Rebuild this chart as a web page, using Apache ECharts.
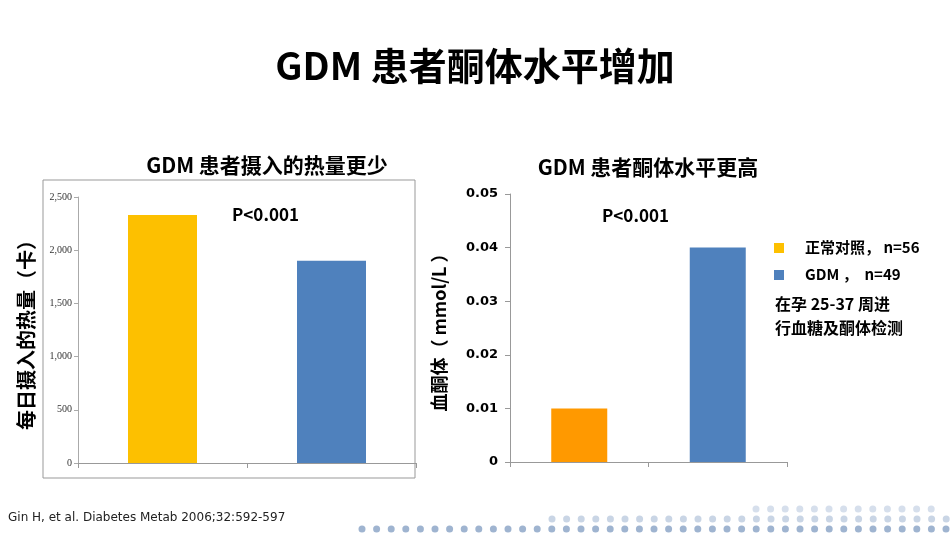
<!DOCTYPE html>
<html><head><meta charset="utf-8">
<script src="https://cdn.jsdelivr.net/npm/echarts@6/dist/echarts.min.js"></script>
<style>html,body{margin:0;padding:0;background:#fff}#c{width:950px;height:535px}</style>
</head><body><div id="c"></div>
<script>
const groups = ['正常对照', 'GDM'];
const calories = [2330, 1900];
const ketone = [0.01, 0.04];
const leftTicks = [0, 500, 1000, 1500, 2000, 2500];
const rightTicks = [0, 0.01, 0.02, 0.03, 0.04, 0.05];
const leftColors = ['#FDC000', '#4F81BD'];
const rightColors = ['#FF9900', '#4F81BD'];
const F = '"Noto Sans CJK SC","DejaVu Sans",sans-serif';

const chart = echarts.init(document.getElementById('c'));
const graphic = [
  {type:'rect', shape:{x:43,y:180,width:372,height:298}, style:{fill:'none',stroke:'#999',lineWidth:1}},
  {type:'rect', shape:{x:774,y:243,width:10,height:10}, style:{fill:leftColors[0]}},
  {type:'text', left:805, top:240, style:{text:'正常对照， n=56', font:'bold 15px '+F, fill:'#000'}},
  {type:'rect', shape:{x:774,y:270,width:10,height:10}, style:{fill:rightColors[1]}},
  {type:'text', left:805, top:267, style:{text:'GDM ，  n=49', font:'bold 15px '+F, fill:'#000'}},
  {type:'text', left:775, top:292, style:{text:'在孕 25-37 周进\n行血糖及酮体检测', font:'bold 16px '+F, lineHeight:24, fill:'#000'}},
  {type:'text', left:8, top:512, style:{text:'Gin H, et al. Diabetes Metab 2006;32:592-597', font:'12px "DejaVu Sans"', fill:'#222'}}
];
for (let i = 0; i < 41; i++) graphic.push({type:'circle', shape:{cx:362+i*14.6,cy:529,r:3.5}, style:{fill:'#9FB4D0'}});
for (let i = 0; i < 28; i++) graphic.push({type:'circle', shape:{cx:552+i*14.6,cy:519,r:3.5}, style:{fill:'#C9D5E5'}});
for (let i = 0; i < 13; i++) graphic.push({type:'circle', shape:{cx:756+i*14.6,cy:509,r:3.5}, style:{fill:'#D6DFEC'}});

chart.setOption({
  animation:false,
  title:[
    {text:'GDM 患者酮体水平增加', left:'center', top:42, textStyle:{fontFamily:F, fontSize:38, fontWeight:'bold', color:'#000'}},
    {text:'GDM 患者摄入的热量更少', left:262, textAlign:'center', top:150, textStyle:{fontFamily:F, fontSize:21, fontWeight:'bold', color:'#000'}},
    {text:'GDM 患者酮体水平更高', left:643, textAlign:'center', top:152, textStyle:{fontFamily:F, fontSize:21, fontWeight:'bold', color:'#000'}},
    {text:'P<0.001', left:227, top:201, textStyle:{fontFamily:F, fontSize:17, fontWeight:'bold', color:'#000'}},
    {text:'P<0.001', left:597, top:202, textStyle:{fontFamily:F, fontSize:17, fontWeight:'bold', color:'#000'}}
  ],
  graphic: graphic,
  grid:[
    {left:78, right:950-416, top:197, bottom:535-463},
    {left:510, right:950-787, top:194, bottom:535-462}
  ],
  xAxis:[
    {gridIndex:0, type:'category', data:groups, axisLabel:{show:false}, axisTick:{show:true, length:5, lineStyle:{color:'#999'}}, axisLine:{lineStyle:{color:'#999'}}},
    {gridIndex:1, type:'category', data:groups, axisLabel:{show:false}, axisTick:{show:true, length:5, lineStyle:{color:'#999'}}, axisLine:{lineStyle:{color:'#999'}}}
  ],
  yAxis:[
    {gridIndex:0, type:'value', min:leftTicks[0], max:leftTicks[leftTicks.length-1], interval:500, splitLine:{show:false},
     axisLine:{show:true, lineStyle:{color:'#aaa'}}, axisTick:{show:true, length:4, lineStyle:{color:'#aaa'}},
     axisLabel:{fontFamily:'"Liberation Serif",serif', fontSize:10, color:'#333', margin:6},
     name:'每日摄入的热量（卡）', nameLocation:'middle', nameGap:42, nameTextStyle:{fontFamily:F, fontSize:20, fontWeight:'bold', color:'#000'}},
    {gridIndex:1, type:'value', min:rightTicks[0], max:rightTicks[rightTicks.length-1], interval:0.01, splitLine:{show:false},
     axisLine:{show:true, lineStyle:{color:'#999'}}, axisTick:{show:true, length:5, lineStyle:{color:'#999'}},
     axisLabel:{fontFamily:'"DejaVu Sans",sans-serif', fontSize:13, fontWeight:'bold', color:'#000', margin:12,
       formatter: v => v === 0 ? '0' : v.toFixed(2)},
     name:'血酮体（ mmol/L ）', nameLocation:'middle', nameGap:62, nameTextStyle:{fontFamily:F, fontSize:18, fontWeight:'bold', color:'#000'}}
  ],
  series:[
    {type:'bar', xAxisIndex:0, yAxisIndex:0, barWidth:69, data:calories.map((v,i)=>({value:v, itemStyle:{color:leftColors[i]}}))},
    {type:'bar', xAxisIndex:1, yAxisIndex:1, barWidth:56, data:ketone.map((v,i)=>({value:v, itemStyle:{color:rightColors[i]}}))}
  ]
});
</script></body></html>
